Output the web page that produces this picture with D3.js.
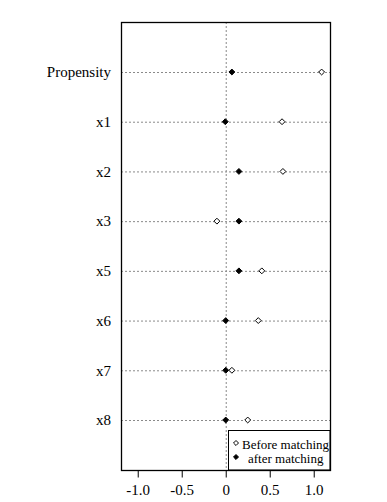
<!DOCTYPE html>
<html>
<head>
<meta charset="utf-8" />
<title>Balance plot</title>
<style>
html, body {
    margin: 0;
    padding: 0;
    background: #fff;
}
#chart {
    width: 387px;
    height: 502px;
}
</style>
</head>
<body>
<div id="chart"></div>
<script src="https://cdnjs.cloudflare.com/ajax/libs/d3/7.8.5/d3.min.js"></script>
<script>
// values
var variables = ["Propensity", "x1", "x2", "x3", "x5", "x6", "x7", "x8"]
var beforeMatching = [1.09, 0.64, 0.65, -0.10, 0.41, 0.37, 0.07, 0.25]
var afterMatching = [0.07, -0.005, 0.15, 0.15, 0.15, 0.0, 0.0, 0.0]
var xTicks = [-1.0, -0.5, 0, 0.5, 1.0]
var legendLabels = ["Before matching", "after matching"]

!(function(){
    "use strict"

    var width = 387, height = 502
    var box = {left: 121, right: 330, top: 22, bottom: 470}
    var font = "'Liberation Serif', 'Times New Roman', serif"

    var svg = d3.select("#chart").append("svg")
        .attr("width", width)
        .attr("height", height)

    var x = d3.scaleLinear().domain([-1.19, 1.185]).range([box.left, box.right])
    var y = d3.scalePoint().domain(variables).range([72, 420])

    // grid lines
    svg.append("g").selectAll("line")
        .data(variables)
        .enter().append("line")
        .attr("x1", box.left).attr("x2", box.right)
        .attr("y1", function(d){ return y(d) + 0.5 })
        .attr("y2", function(d){ return y(d) + 0.5 })
        .attr("stroke", "#8a8a8a")
        .attr("stroke-dasharray", "2,2")

    svg.append("line")
        .attr("x1", x(0) + 0.5).attr("x2", x(0) + 0.5)
        .attr("y1", box.top).attr("y2", box.bottom)
        .attr("stroke", "#8a8a8a")
        .attr("stroke-dasharray", "2,2")

    // row labels
    svg.append("g").selectAll("text")
        .data(variables)
        .enter().append("text")
        .attr("x", 111)
        .attr("y", function(d){ return y(d) })
        .attr("dy", "0.35em")
        .attr("text-anchor", "end")
        .attr("font-family", font)
        .attr("font-size", "15px")
        .attr("fill", "#000")
        .text(function(d){ return d })

    var diamond = d3.symbol().type(d3.symbolDiamond2).size(22)

    // before matching: open diamonds
    svg.append("g").selectAll("path")
        .data(beforeMatching)
        .enter().append("path")
        .attr("d", diamond)
        .attr("transform", function(d, i){ return "translate(" + x(d) + "," + y(variables[i]) + ")" })
        .attr("fill", "#fff")
        .attr("stroke", "#000")
        .attr("stroke-width", 1)

    // after matching: filled diamonds
    svg.append("g").selectAll("path")
        .data(afterMatching)
        .enter().append("path")
        .attr("d", diamond)
        .attr("transform", function(d, i){ return "translate(" + x(d) + "," + y(variables[i]) + ")" })
        .attr("fill", "#000")
        .attr("stroke", "#000")
        .attr("stroke-width", 1)

    // legend
    var legend = svg.append("g")
    legend.append("rect")
        .attr("x", 228.5).attr("y", 430.5)
        .attr("width", box.right - 228.5).attr("height", box.bottom - 430.5)
        .attr("fill", "#fff")
        .attr("stroke", "#000")
    legend.append("path")
        .attr("d", d3.symbol().type(d3.symbolDiamond2).size(16))
        .attr("transform", "translate(236,443)")
        .attr("fill", "#fff").attr("stroke", "#000")
    legend.append("path")
        .attr("d", d3.symbol().type(d3.symbolDiamond2).size(16))
        .attr("transform", "translate(236,457)")
        .attr("fill", "#000").attr("stroke", "#000")
    legend.selectAll("text")
        .data(legendLabels)
        .enter().append("text")
        .attr("x", function(d, i){ return i == 0 ? 242 : 248 })
        .attr("y", function(d, i){ return 445 + i * 14 })
        .attr("dy", "0.3em")
        .attr("font-family", font)
        .attr("font-size", "13px")
        .attr("fill", "#000")
        .text(function(d){ return d })

    // frame
    svg.append("rect")
        .attr("x", box.left + 0.5).attr("y", box.top + 0.5)
        .attr("width", box.right - box.left).attr("height", box.bottom - box.top)
        .attr("fill", "none")
        .attr("stroke", "#000")
        .attr("stroke-width", 1.3)

    // x axis
    var axis = d3.axisBottom(x)
        .tickValues(xTicks)
        .tickSize(7)
        .tickSizeOuter(0)
        .tickFormat(function(d){ return d == 0 ? "0" : d3.format(".1f")(d).replace("\u2212", "-") })

    var gx = svg.append("g")
        .attr("transform", "translate(0," + (box.bottom + 0.5) + ")")
        .call(axis)
    gx.select(".domain").remove()
    gx.selectAll("line").attr("stroke", "#000")
    gx.selectAll("text")
        .attr("font-family", font)
        .attr("font-size", "15px")
        .attr("fill", "#000")
        .attr("y", 14)
}());
</script>
</body>
</html>
